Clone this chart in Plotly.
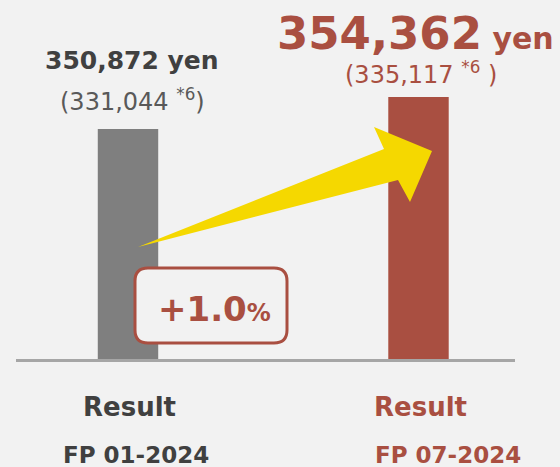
import plotly.graph_objects as go

# ---- data ----
periods = ["FP 01-2024", "FP 07-2024"]
period_titles = ["Result", "Result"]
values = [350872, 354362]
values_excl = [331044, 335117]
change_label = "+1.0"

# ---- style ----
BG = "#f2f2f2"
GRAY_BAR = "#7f7f7f"
RED = "#a94f41"
DARK = "#404040"
MID = "#595959"
YELLOW = "#f5d800"
BASE = "#a6a6a6"
FONT = "DejaVu Sans"

W, H = 560, 467
MB = 108              # bottom margin -> plot bottom at pixel 359
PH = H - MB

def px(x):
    return x / W

def py(y):
    return (PH - y) / PH

fig = go.Figure()
fig.add_trace(go.Bar(
    x=[0, 1], y=values, width=0.208,
    marker=dict(color=[GRAY_BAR, RED], line=dict(width=0)),
    hoverinfo="skip",
))

# y range so baseline sits at pixel 359
s = (values[1] - values[0]) / 32.0
B = values[0] - 230 * s
T = B + PH * s

fig.update_layout(
    width=W, height=H,
    margin=dict(l=0, r=0, t=0, b=MB),
    paper_bgcolor=BG, plot_bgcolor=BG,
    showlegend=False,
    xaxis=dict(range=[-0.4406, 1.4871], visible=False, fixedrange=True),
    yaxis=dict(range=[B, T], visible=False, fixedrange=True),
    font=dict(family=FONT),
)

shapes = []
# baseline
shapes.append(dict(type="line", xref="paper", yref="paper",
                   x0=px(16), x1=px(515), y0=py(360.5), y1=py(360.5),
                   line=dict(color=BASE, width=3), layer="above"))

# arrow
pts = [(138, 247), (384, 149), (374, 127), (432, 151), (410, 202), (398, 180)]
path = "M " + " L ".join(f"{px(x):.5f},{py(y):.5f}" for x, y in pts) + " Z"
shapes.append(dict(type="path", xref="paper", yref="paper", path=path,
                   fillcolor=YELLOW, line=dict(width=0), layer="above"))

# rounded box
x0, x1, y0, y1, r = 135, 287, 268, 343, 13
def P(x, y):
    return f"{px(x):.5f},{py(y):.5f}"
box = (f"M {P(x0+r,y0)} L {P(x1-r,y0)} Q {P(x1,y0)} {P(x1,y0+r)} "
       f"L {P(x1,y1-r)} Q {P(x1,y1)} {P(x1-r,y1)} L {P(x0+r,y1)} "
       f"Q {P(x0,y1)} {P(x0,y1-r)} L {P(x0,y0+r)} Q {P(x0,y0)} {P(x0+r,y0)} Z")
shapes.append(dict(type="path", xref="paper", yref="paper", path=box,
                   fillcolor=BG, line=dict(color=RED, width=3), layer="above"))
fig.update_layout(shapes=shapes)

def ann(text, x, y, size, color, bold=True):
    t = f"<b>{text}</b>" if bold else text
    fig.add_annotation(text=t, x=px(x), y=py(y), xref="paper", yref="paper",
                       xanchor="center", yanchor="middle", showarrow=False,
                       font=dict(family=FONT, size=size, color=color))

fmt = lambda v: f"{v:,}"
ann(f"{fmt(values[0])} yen", 131.5, 60, 25, DARK)
ann(f"({fmt(values_excl[0])} <sup>*6</sup>)", 132, 100, 24, MID, bold=False)
ann(f"{fmt(values[1])}<span style='font-size:30px'> yen</span>", 415, 33, 45, RED)
ann(f"({fmt(values_excl[1])} <sup>*6</sup> )", 421, 73, 24, RED, bold=False)
ann(f"{change_label}<span style='font-size:24px'>%</span>", 214, 309, 34, RED)

ann(period_titles[0], 129, 406.5, 26, DARK)
ann(periods[0], 135.5, 455, 23, DARK)
ann(period_titles[1], 420, 406.5, 26, RED)
ann(periods[1], 448, 455, 23, RED)

fig.write_html(
    "out.html",
    config={"displayModeBar": False, "staticPlot": True},
    post_script="document.body.style.margin='0';document.body.style.background='#f2f2f2';",
)
